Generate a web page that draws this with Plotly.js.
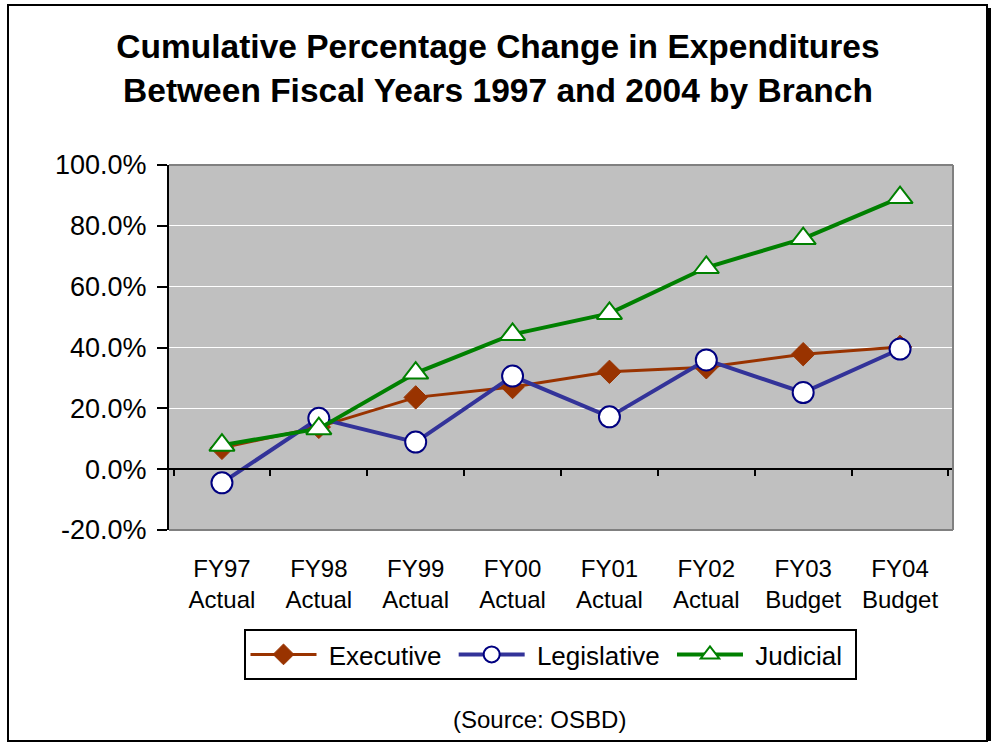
<!DOCTYPE html>
<html>
<head>
<meta charset="utf-8">
<script src="https://cdn.plot.ly/plotly-3.0.1.min.js"></script>
<style>html,body{margin:0;padding:0;background:#fff;}#chart{width:992px;height:743px;}</style>
</head>
<body>
<div id="chart"></div>
<script>
var categories = ["FY97<br>Actual","FY98<br>Actual","FY99<br>Actual","FY00<br>Actual","FY01<br>Actual","FY02<br>Actual","FY03<br>Budget","FY04<br>Budget"];
var seriesNames = ["Executive", "Legislative", "Judicial"];
var executive = [7.0, 13.9, 23.6, 27.0, 32.0, 33.5, 37.8, 40.2];
var legislative = [-4.5, 16.7, 8.9, 30.6, 17.2, 35.9, 25.2, 39.5];
var judicial = [7.9, 13.3, 31.6, 44.3, 51.2, 66.3, 75.8, 89.3];
var yTicks = [-20, 0, 20, 40, 60, 80, 100];
var yTickText = yTicks.map(function(v){ return v.toFixed(1) + "%"; });

var FONT = "Arial, 'Liberation Sans', sans-serif";
// plot area in pixels
var L = 169, R = 953, T = 165, B = 530, W = 992, H = 743;
function px(x){ return (x - L) / (R - L); }
function py(y){ return (B - y) / (B - T); }
function legendName(s){ return "\u00a0" + s + "\u00a0"; }

var traces = [
  {x: categories, y: executive, name: legendName(seriesNames[0]), type: "scatter", mode: "lines+markers",
   line: {color: "#993300", width: 3},
   marker: {symbol: "diamond", size: 18, color: "#993300", line: {color: "#993300", width: 1}}},
  {x: categories, y: legislative, name: legendName(seriesNames[1]), type: "scatter", mode: "lines+markers",
   line: {color: "#333399", width: 4},
   marker: {symbol: "circle", size: 21, color: "#ffffff", line: {color: "#000080", width: 2}}},
  {x: categories, y: judicial, name: legendName(seriesNames[2]), type: "scatter", mode: "lines+markers",
   line: {color: "#008000", width: 4},
   marker: {symbol: "triangle-up", size: 22, color: "#ffffff", line: {color: "#008000", width: 2}}},
  {x: categories, y: executive, xaxis: "x2", type: "scatter", mode: "lines",
   line: {color: "rgba(0,0,0,0)", width: 0}, showlegend: false, hoverinfo: "skip"}
];

var layout = {
  width: W, height: H,
  margin: {l: L, r: W - R, t: T, b: H - B, pad: 0},
  paper_bgcolor: "#ffffff",
  plot_bgcolor: "#C0C0C0",
  font: {family: FONT, color: "#000000", size: 24},
  showlegend: true,
  title: {
    text: "<b>Cumulative Percentage Change in Expenditures<br>Between Fiscal Years 1997 and 2004 by Branch</b>",
    font: {family: FONT, size: 33.5, color: "#000"},
    x: 498 / W, xref: "container", xanchor: "center",
    y: 1 - 58 / H, yref: "container", yanchor: "middle"
  },
  xaxis: {
    type: "category", showgrid: false, zeroline: false, showline: false,
    ticks: "", tickfont: {family: FONT, size: 24, color: "#000"},
    ticklabelstandoff: 22, fixedrange: true
  },
  xaxis2: {
    type: "category", overlaying: "x", matches: "x", anchor: "free", position: 20 / 120,
    showgrid: false, zeroline: false, showline: true, linecolor: "#000", linewidth: 2,
    ticks: "outside", ticklen: 6, tickwidth: 2, tickcolor: "#000", tickson: "boundaries",
    showticklabels: false
  },
  yaxis: {
    range: [-20, 100], tickvals: yTicks, ticktext: yTickText,
    showgrid: true, gridcolor: "#ffffff", gridwidth: 1,
    zeroline: false, showline: true, linecolor: "#000", linewidth: 2,
    ticks: "outside", ticklen: 10, tickwidth: 2, tickcolor: "#000",
    tickfont: {family: FONT, size: 27, color: "#000"}, ticklabelstandoff: 5, fixedrange: true
  },
  legend: {
    orientation: "h", x: px(550), xanchor: "center", y: py(629), yanchor: "top",
    bordercolor: "#000", borderwidth: 2, bgcolor: "#fff",
    font: {family: FONT, size: 26, color: "#000"}, itemwidth: 66, traceorder: "normal"
  },
  shapes: [
    {type: "line", xref: "paper", yref: "paper", x0: 0, x1: 1, y0: 1, y1: 1, line: {color: "#808080", width: 2}},
    {type: "line", xref: "paper", yref: "paper", x0: 1, x1: 1, y0: 0, y1: 1, line: {color: "#808080", width: 2}},
    {type: "line", xref: "paper", yref: "paper", x0: 0, x1: 1, y0: 0, y1: 0, line: {color: "#808080", width: 2}},
    {type: "rect", xref: "paper", yref: "paper", x0: px(8), x1: px(987), y0: py(741), y1: py(5), line: {color: "#000", width: 2}},
    {type: "line", xref: "paper", yref: "paper", x0: px(989), x1: px(989), y0: py(741), y1: py(8), line: {color: "#000", width: 4}}
  ],
  annotations: [
    {text: "(Source: OSBD)", xref: "paper", yref: "paper", x: px(539), y: py(719), xanchor: "center", yanchor: "middle",
     showarrow: false, font: {family: FONT, size: 24, color: "#000"}}
  ]
};

Plotly.newPlot("chart", traces, layout, {displayModeBar: false, staticPlot: true});
</script>
</body>
</html>
